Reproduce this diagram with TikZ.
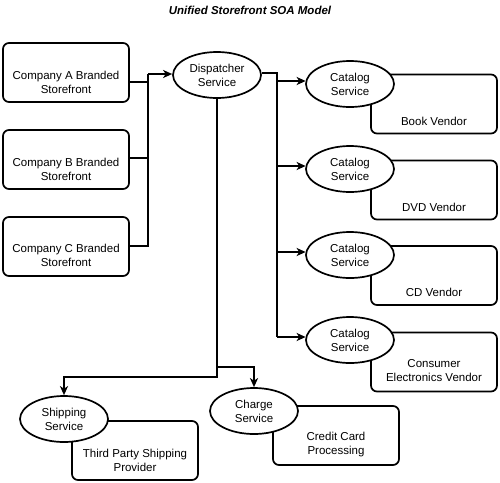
\documentclass[tikz,border=0pt]{standalone}
\usepackage{fontspec}
\setmainfont{Liberation Sans}
\usetikzlibrary{arrows.meta,shapes.geometric}
\begin{document}
\begin{tikzpicture}[x=1pt,y=-1pt,
  every node/.style={font=\fontsize{11.5}{14}\selectfont},
  lw/.style={line width=1.7pt},
  rbox/.style={lw,draw,rounded corners=6pt,minimum width=126pt,minimum height=59pt,inner sep=0pt},
  vbox/.style={lw,draw,fill=white,rounded corners=6pt,minimum width=126pt,minimum height=59pt,inner sep=0pt},
  svc/.style={lw,draw,ellipse,fill=white,minimum width=88pt,minimum height=46pt,inner sep=0pt,align=center},
  txt/.style={align=center,inner sep=0pt},
  conn/.style={lw},
  arr/.style={lw,-{Stealth[length=9pt,width=8pt,inset=2.5pt]}}
]
\useasboundingbox (0,0) rectangle (500,482);
% title
\node (title) at (250,10) {\bfseries\itshape Unified Storefront SOA Model};
% storefront boxes
\node[rbox] (boxA) at (66,72.5) {};
\node[txt] (tA) at (66,82.5) {Company A Branded\\Storefront};
\node[rbox] (boxB) at (66,159.5) {};
\node[txt] (tB) at (66,169) {Company B Branded\\Storefront};
\node[rbox] (boxC) at (66,246.5) {};
\node[txt] (tC) at (66,255.5) {Company C Branded\\Storefront};
% vendor boxes
\node[vbox] (vb1) at (434,104) {};
\node[txt] (vt1) at (434,121) {Book Vendor};
\node[vbox] (vb2) at (434,190) {};
\node[txt] (vt2) at (434,207) {DVD Vendor};
\node[vbox] (vb3) at (434,275.5) {};
\node[txt] (vt3) at (434,292) {CD Vendor};
\node[vbox] (vb4) at (434,362) {};
\node[txt] (vt4) at (434,370.5) {Consumer\\Electronics Vendor};
\node[vbox] (vb5) at (135,450.5) {};
\node[txt] (vt5) at (135,460) {Third Party Shipping\\Provider};
\node[vbox] (vb6) at (336,435.5) {};
\node[txt] (vt6) at (336,445) {Credit Card\\Processing};
% services
\node[svc] (disp) at (217,75) {Dispatcher\\Service};
\node[svc] (cat1) at (350,84) {Catalog\\Service};
\node[svc] (cat2) at (350,169) {Catalog\\Service};
\node[svc] (cat3) at (350,255) {Catalog\\Service};
\node[svc] (cat4) at (350,340) {Catalog\\Service};
\node[svc] (ship) at (64,419) {Shipping\\Service};
\node[svc] (charge) at (254,411) {Charge\\Service};
% left connectors
\coordinate (jl) at (148,74);
\coordinate (jlc) at (148,246);
\draw[conn] ([yshift=-9.5pt]boxA.east) -- ([yshift=-9.5pt]boxA.east -| jl);
\draw[conn] ([yshift=1.5pt]boxB.east) -- ([yshift=1.5pt]boxB.east -| jl);
\draw[conn] ([yshift=0.5pt]boxC.east) -- (jlc) -- (jl);
\draw[arr] (jl) -- (jl -| disp.west);
% right connectors
\coordinate (jr) at (277,73);
\coordinate (r1) at (277,81);
\coordinate (r2) at (277,166);
\coordinate (r3) at (277,252);
\coordinate (r4) at (277,337);
\draw[conn] (jr -| disp.east) -- (jr) -- (r4);
\draw[arr] (r1) -- ([xshift=0.5pt]r1 -| cat1.west);
\draw[arr] (r2) -- ([xshift=0.5pt]r2 -| cat2.west);
\draw[arr] (r3) -- ([xshift=0.5pt]r3 -| cat3.west);
\draw[arr] (r4) -- ([xshift=0.5pt]r4 -| cat4.west);
% bottom connectors
\coordinate (jb) at (217,377);
\coordinate (jc) at (217,367);
\draw[arr] (disp.south) -- (jb) -| (ship.north);
\draw[arr] (jc) -| (charge.north);
\end{tikzpicture}
\end{document}
